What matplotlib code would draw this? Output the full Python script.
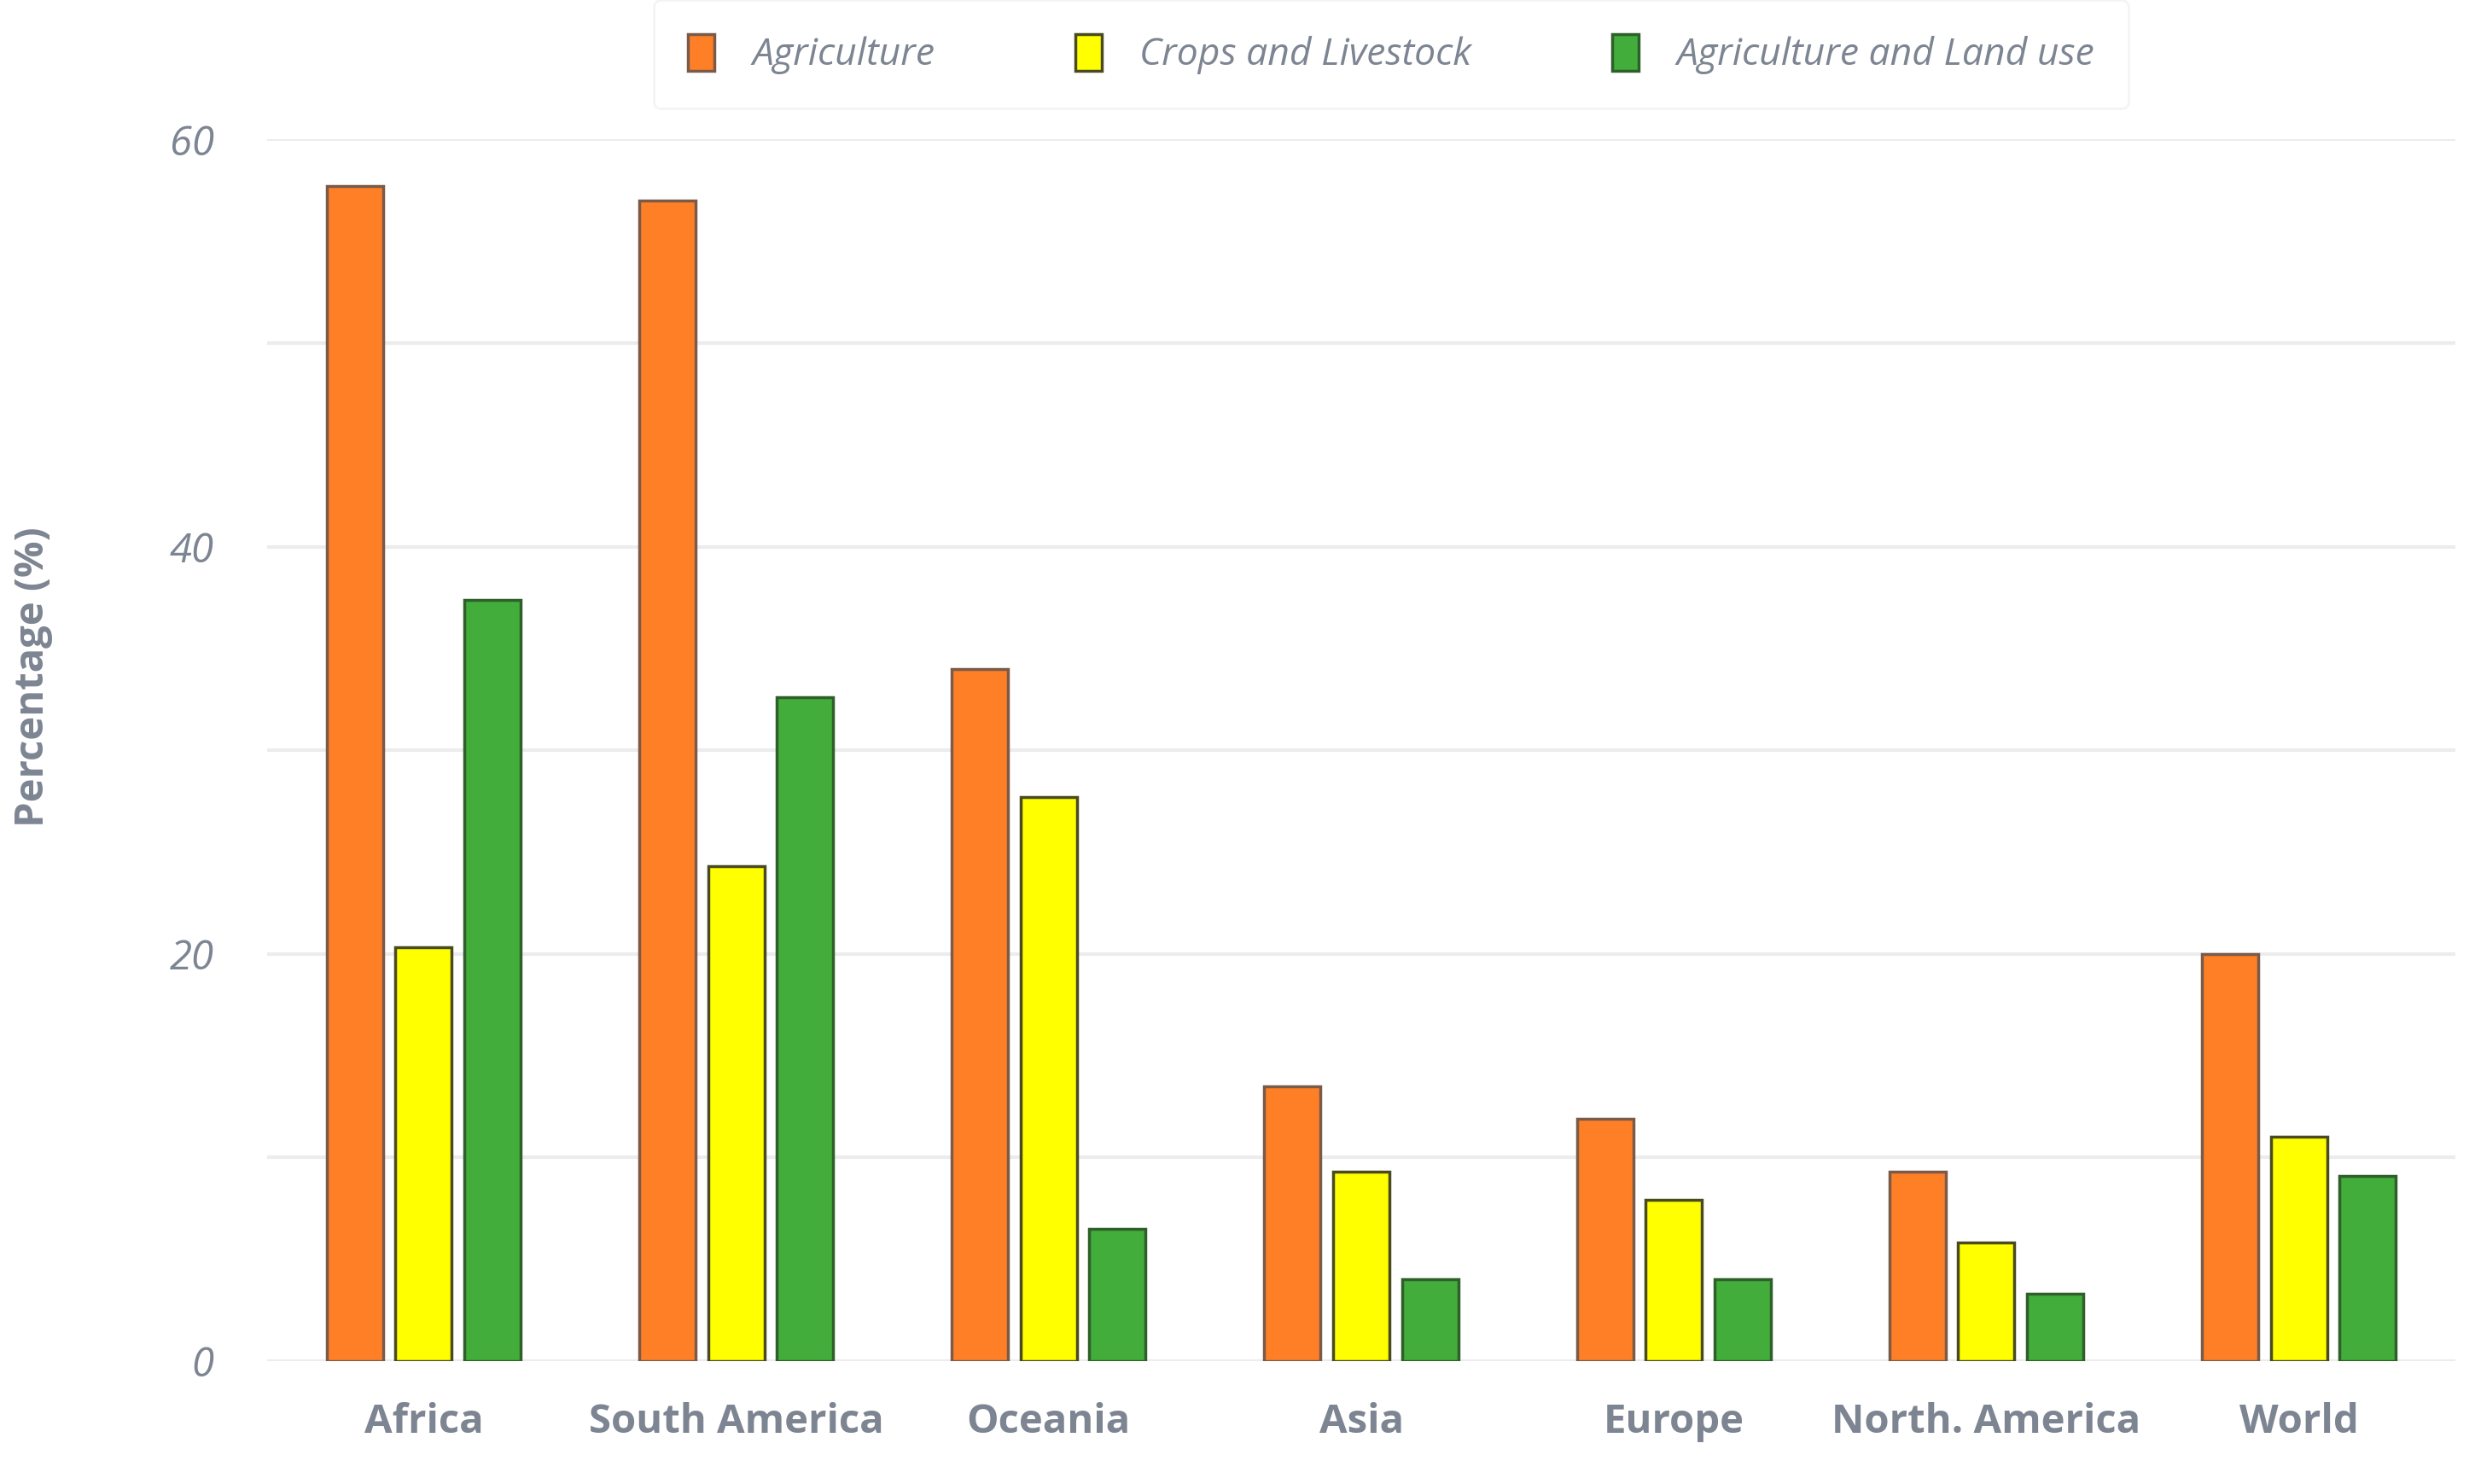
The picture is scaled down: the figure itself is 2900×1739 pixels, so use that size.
import matplotlib.pyplot as plt
import numpy as np
from matplotlib.patches import Patch

regions = ["Africa", "South America", "Oceania", "Asia", "Europe", "North. America", "World"]
agriculture = [57.7, 57.0, 34.0, 13.5, 11.9, 9.3, 20.0]
crops_livestock = [20.3, 24.3, 27.7, 9.3, 7.9, 5.8, 11.0]
agri_land_use = [37.4, 32.6, 6.5, 4.0, 4.0, 3.3, 9.1]
series_names = ["Agriculture", "Crops and Livestock", "Agriculture and Land use"]
y_ticks = [0, 20, 40, 60]

colors = ["#ff7f27", "#ffff00", "#42ad3a"]
edges = ["#7a5a48", "#4a4a20", "#2f5f2a"]
text_col = "#7d8592"

plt.rcParams['font.family'] = ['Open Sans', 'DejaVu Sans']

fig = plt.figure(figsize=(29, 17.39), dpi=100)
ax = fig.add_axes([0.108, 0.083, 0.884, 0.823])

x = np.arange(len(regions))
w = 0.18
pitch = 0.22
for i, vals in enumerate([agriculture, crops_livestock, agri_land_use]):
    ax.bar(x + (i - 1) * pitch, vals, width=w, color=colors[i],
           edgecolor=edges[i], linewidth=2.5, zorder=3)

ax.set_xlim(-0.5, 6.5)
ax.set_ylim(0, 60)
ax.set_yticks(y_ticks)
ax.set_yticks(np.arange(0, 61, 10), minor=True)
ax.set_yticklabels([str(t) for t in y_ticks], fontsize=34, style='italic', color=text_col)
ax.grid(axis='y', which='both', color='#ececec', linewidth=3, zorder=0)
ax.tick_params(axis='y', which='both', length=0, pad=45)
ax.tick_params(axis='x', length=0, pad=35)
ax.set_xticks(x)
ax.set_xticklabels(regions, fontsize=34, fontweight='bold', color=text_col)
for s in ax.spines.values():
    s.set_visible(False)

ax.set_ylabel("Percentage (%)", fontsize=34, fontweight='bold', color=text_col)
ax.yaxis.set_label_coords(-0.098, 0.56)

handles = [Patch(facecolor=colors[i], edgecolor=edges[i], linewidth=2.5) for i in range(3)]
leg = fig.legend(handles, series_names, loc='upper center', bbox_to_anchor=(0.562, 1.0),
                 ncol=3, frameon=True, prop={'style': 'italic', 'size': 32},
                 handlelength=0.7, handleheight=1.1, columnspacing=3.7, handletextpad=1.0,
                 borderpad=0.9, borderaxespad=0.0)
leg.get_frame().set_edgecolor('#f2f2f2')
leg.get_frame().set_linewidth(2)
for t in leg.get_texts():
    t.set_color(text_col)

fig.savefig("out.png", dpi=100, facecolor='white')
